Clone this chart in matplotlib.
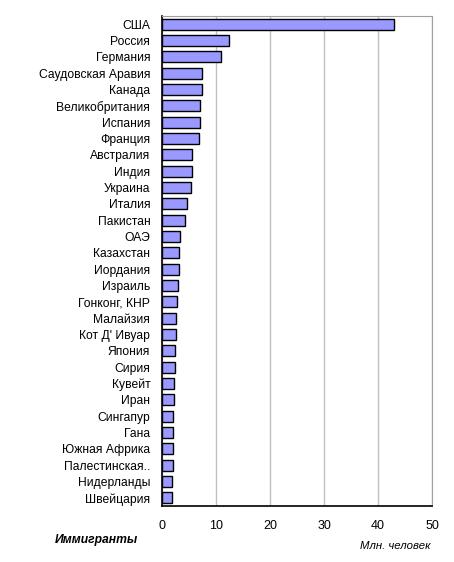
import matplotlib.pyplot as plt

plt.rcParams['font.family'] = ['Liberation Sans', 'DejaVu Sans']

# страны и число иммигрантов (млн. человек)
strany = [
    "США", "Россия", "Германия", "Саудовская Аравия", "Канада",
    "Великобритания", "Испания", "Франция", "Австралия", "Индия",
    "Украина", "Италия", "Пакистан", "ОАЭ", "Казахстан",
    "Иордания", "Израиль", "Гонконг, КНР", "Малайзия", "Кот Д' Ивуар",
    "Япония", "Сирия", "Кувейт", "Иран", "Сингапур",
    "Гана", "Южная Африка", "Палестинская..", "Нидерланды", "Швейцария",
]
immigranty = [
    42.9, 12.3, 10.9, 7.3, 7.3,
    7.0, 7.0, 6.8, 5.5, 5.5,
    5.3, 4.6, 4.2, 3.3, 3.1,
    3.1, 2.9, 2.7, 2.5, 2.5,
    2.3, 2.3, 2.2, 2.2, 2.0,
    2.0, 2.0, 2.0, 1.8, 1.8,
]
x_ticks = [0, 10, 20, 30, 40, 50]

fig = plt.figure(figsize=(4.54, 5.62), dpi=100)
ax = fig.add_axes([0.357, 0.0996, 0.595, 0.872])

pos = list(range(len(strany)))
ax.barh(pos, immigranty, height=0.67, color="#9999FF",
        edgecolor="black", linewidth=1.0, zorder=3)

ax.set_xlim(0, 50)
ax.set_ylim(len(strany) - 0.5, -0.5)
ax.set_xticks(x_ticks)
ax.set_yticks(pos)
ax.set_yticklabels(strany)
ax.tick_params(axis="both", length=0)
ax.tick_params(axis="y", pad=8.5, labelsize=8.7)
ax.tick_params(axis="x", pad=10, labelsize=9)

ax.grid(axis="x", color="#c0c0c0", linewidth=1.0, zorder=0)
for side in ["top", "right"]:
    ax.spines[side].set_color("#a0a0a0")
for side in ["left", "bottom"]:
    ax.spines[side].set_color("black")
    ax.spines[side].set_linewidth(1.2)

fig.text(55 / 454, 1 - 540 / 562, "Иммигранты", fontsize=8.7,
         fontweight="bold", fontstyle="italic", va="center", ha="left")
fig.text(430 / 454, 1 - 546 / 562, "Млн. человек", fontsize=8.2,
         fontstyle="italic", va="center", ha="right")

fig.savefig("out.png", dpi=100)
